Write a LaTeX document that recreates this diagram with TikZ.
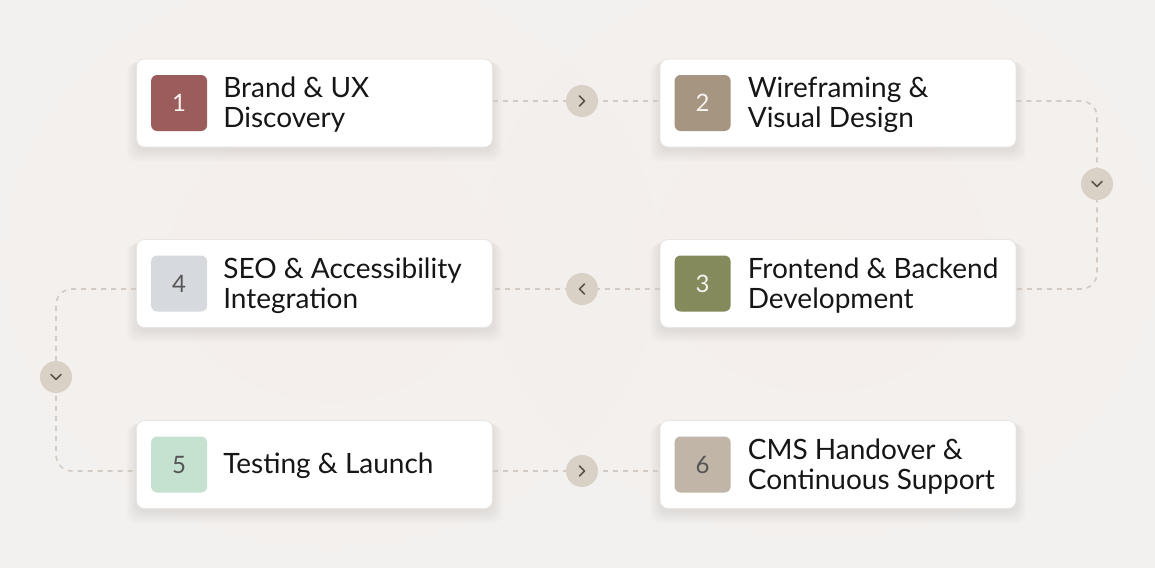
\documentclass[tikz,border=0pt]{standalone}
\usepackage{fontspec}
\setmainfont{Lato}
\usetikzlibrary{calc,fadings}
\definecolor{bg}{HTML}{F3F1EF}
\definecolor{blobc}{HTML}{FBEAE7}
\definecolor{cardline}{HTML}{E8E5E2}
\definecolor{ink}{HTML}{161616}
\definecolor{dashc}{HTML}{D3CBC3}
\definecolor{chevfill}{HTML}{D9D0C6}
\definecolor{chevline}{HTML}{5A524B}
\definecolor{bA}{HTML}{9A5D5C}
\definecolor{bB}{HTML}{A69580}
\definecolor{bC}{HTML}{848A5C}
\definecolor{bD}{HTML}{D6DADF}
\definecolor{bE}{HTML}{C5E1CF}
\definecolor{bF}{HTML}{C0B5A7}
\definecolor{numdark}{HTML}{555555}
\definecolor{numlight}{HTML}{F7F1EF}
\tikzfading[name=glow, inner color=transparent!72, outer color=transparent!100]
\newcommand\softshadow[1]{%
  \foreach \s in {1,...,10}{%
    \fill[black, opacity=0.006, rounded corners=10pt]
      ($(#1.south west)+(-\s*1.1+1,2+\s*1.3)$) rectangle ($(#1.north east)+(\s*1.1-1,\s*0.4)$);
  }%
}
\begin{document}
\begin{tikzpicture}[x=1pt,y=-1pt,
  card/.style={draw=cardline, line width=0.8pt, fill=white, rounded corners=8pt,
    minimum width=356pt, minimum height=88pt, inner sep=0pt},
  badge/.style={rounded corners=6pt, minimum width=56pt, minimum height=56pt, inner sep=0pt,
    font=\fontsize{24}{24}\selectfont},
  lbl/.style={anchor=west, align=left, inner sep=0pt, text=ink,
    font=\fontsize{28}{30}\selectfont},
  chev/.style={circle, fill=chevfill, minimum size=32pt, inner sep=0pt},
  chevmark/.style={draw=chevline, line width=1.5pt, line cap=round, line join=round},
  link/.style={draw=dashc, line width=1.6pt, dash pattern=on 5pt off 5pt, rounded corners=16pt}
]
\fill[bg] (0,0) rectangle (1155,568);
\useasboundingbox (0,0) rectangle (1155,568);
% faint glow
\fill[blobc, path fading=glow] (330,260) ellipse (330 and 290);
\fill[blobc, path fading=glow] (820,250) ellipse (340 and 290);

% card positions
\coordinate (p1) at (314.5,103);
\coordinate (p2) at (838,103);
\coordinate (p4) at (314.5,283.5);
\coordinate (p3) at (838,283.5);
\coordinate (p5) at (314.5,464.5);
\coordinate (p6) at (838,464.5);

% invisible placeholders for shadows
\foreach \i in {1,...,6}{\node[minimum width=356pt, minimum height=88pt, inner sep=0pt] (s\i) at (p\i) {};}
\foreach \i in {1,...,6}{\softshadow{s\i}}

% cards
\node[card] (c1) at (p1) {};
\node[card] (c2) at (p2) {};
\node[card] (c4) at (p4) {};
\node[card] (c3) at (p3) {};
\node[card] (c5) at (p5) {};
\node[card] (c6) at (p6) {};

% badges
\node[badge, fill=bA, text=numlight] (n1) at ($(c1.west)+(43,0)$) {1};
\node[badge, fill=bB, text=numlight] (n2) at ($(c2.west)+(43,0)$) {2};
\node[badge, fill=bC, text=numlight] (n3) at ($(c3.west)+(43,0)$) {3};
\node[badge, fill=bD, text=numdark] (n4) at ($(c4.west)+(43,0)$) {4};
\node[badge, fill=bE, text=numdark] (n5) at ($(c5.west)+(43,0)$) {5};
\node[badge, fill=bF, text=numdark] (n6) at ($(c6.west)+(43,0)$) {6};

% labels
\node[lbl] (t1) at ($(c1.west)+(87,2)$) {Brand \& UX\\Discovery};
\node[lbl] (t2) at ($(c2.west)+(88,2)$) {Wireframing \&\\Visual Design};
\node[lbl] (t3) at ($(c3.west)+(88,2)$) {Frontend \& Backend\\Development};
\node[lbl] (t4) at ($(c4.west)+(87,2)$) {SEO \& Accessibility\\Integration};
\node[lbl] (t5) at ($(c5.west)+(87,1)$) {Testing \& Launch};
\node[lbl] (t6) at ($(c6.west)+(88,2)$) {CMS Handover \&\\Continuous Support};

% chevron circle positions
\coordinate (k1) at (582,101);
\coordinate (k2) at (1097,184);
\coordinate (k3) at (582,289);
\coordinate (k4) at (56,377);
\coordinate (k5) at (582,471);

% connectors
\draw[link] (c1.east |- k1) -- (c2.west |- k1);
\draw[link] (c2.east |- k1) -- (k2 |- k1) -- (k2 |- k3) -- (c3.east |- k3);
\draw[link] (c3.west |- k3) -- (c4.east |- k3);
\draw[link] (c4.west |- k3) -- (k4 |- k3) -- (k4 |- k5) -- (c5.west |- k5);
\draw[link] (c5.east |- k5) -- (c6.west |- k5);

% chevrons
\node[chev] (h1) at (k1) {};
\node[chev] (h2) at (k2) {};
\node[chev] (h3) at (k3) {};
\node[chev] (h4) at (k4) {};
\node[chev] (h5) at (k5) {};
\draw[chevmark] ($(h1)+(-2.5,-5)$) -- ++(5,5) -- ++(-5,5);
\draw[chevmark] ($(h2)+(-5,-2.5)$) -- ++(5,5) -- ++(5,-5);
\draw[chevmark] ($(h3)+(2.5,-5)$) -- ++(-5,5) -- ++(5,5);
\draw[chevmark] ($(h4)+(-5,-2.5)$) -- ++(5,5) -- ++(5,-5);
\draw[chevmark] ($(h5)+(-2.5,-5)$) -- ++(5,5) -- ++(-5,5);
\end{tikzpicture}
\end{document}
